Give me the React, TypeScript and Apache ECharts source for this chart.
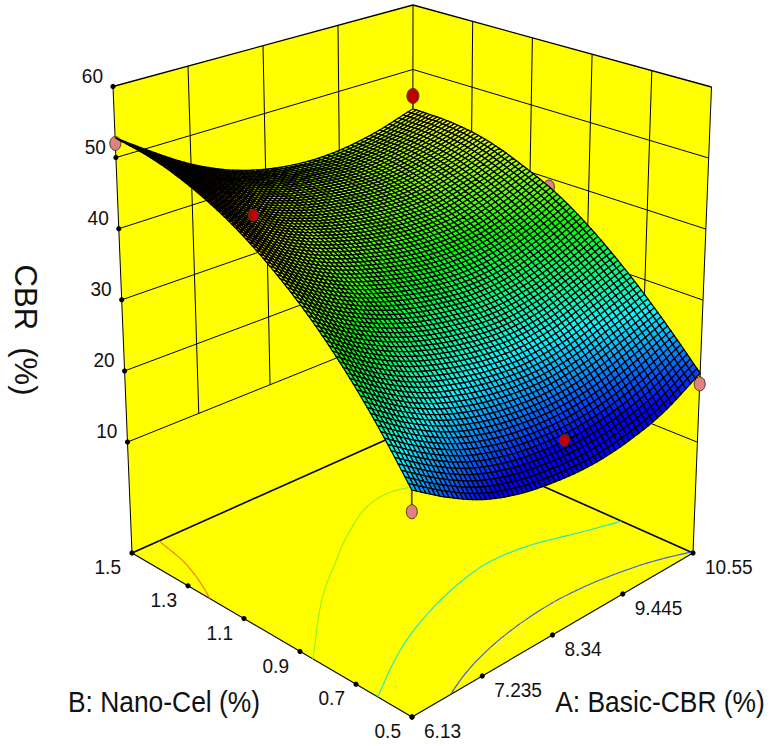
import React, { useEffect, useRef } from "react";
import * as echarts from "echarts";

// ---- axis values ----
const aTicks = [6.13, 7.235, 8.34, 9.445, 10.55];
const aTickLabels = ["6.13", "7.235", "8.34", "9.445", "10.55"];
const bTicks = [0.5, 0.7, 0.9, 1.1, 1.3, 1.5];
const bTickLabels = ["0.5", "0.7", "0.9", "1.1", "1.3", "1.5"];
const zTicks = [10, 20, 30, 40, 50, 60];
const zMin = -5.6;
const zMax = 60;
const aMin = 6.13, aMax = 10.55, bMin = 0.5, bMax = 1.5;

// ---- surface values: rows B = 0.5..1.5, columns A = 6.13..10.55 ----
const surfaceA = [6.13, 6.6825, 7.235, 7.7875, 8.34, 8.8925, 9.445, 9.9975, 10.55];
const surfaceB = [0.5, 0.625, 0.75, 0.875, 1.0, 1.125, 1.25, 1.375, 1.5];
const cbrRow0 = [23.6, 20.3, 17.6, 15.9, 15.0, 14.7, 15.3, 16.8, 19.7];
const cbrRow1 = [30.1, 26.7, 24.0, 22.2, 21.2, 20.9, 21.5, 23.0, 24.9];
const cbrRow2 = [35.85, 32.3, 29.6, 27.8, 26.6, 26.1, 26.7, 28.2, 29.8];
const cbrRow3 = [40.75, 37.1, 34.4, 32.4, 31.1, 30.4, 30.8, 32.2, 34.2];
const cbrRow4 = [44.8, 41.1, 38.3, 36.4, 35.0, 34.2, 34.4, 35.7, 37.9];
const cbrRow5 = [48.05, 44.3, 41.5, 39.6, 38.2, 37.4, 37.4, 38.7, 40.6];
const cbrRow6 = [50.45, 46.7, 43.7, 41.7, 40.4, 39.6, 39.6, 40.8, 42.7];
const cbrRow7 = [52.05, 48.4, 45.2, 43.0, 41.6, 40.8, 40.8, 41.9, 43.7];
const cbrRow8 = [52.8, 49.2, 45.9, 43.4, 41.8, 41.0, 41.1, 42.1, 43.9];
const cbrTable = [cbrRow0, cbrRow1, cbrRow2, cbrRow3, cbrRow4, cbrRow5, cbrRow6, cbrRow7, cbrRow8];

// ---- design points ----
const pointA = [6.13, 6.13, 10.55, 10.55, 6.13, 10.55, 8.47];
const pointB = [0.5, 1.5, 1.5, 0.5, 1.035, 1.035, 0.5];
const pointCBR = [20.8, 52.0, 45.9, 18.2, 50.2, 38.7, 20.0];
const pointAboveSurface = [false, false, true, false, true, false, true];

// ---- contour levels on the floor ----
const contourLevels = [20, 30, 40, 50];
const contourColors = ["#2a55f0", "#10e8c8", "#8cf020", "#ff6a10"];

// ---- colour scale of the surface (blue to red) ----
const colourLow = 17.5;
const colourHigh = 53;

// ---- box corners on the page ----
type P = [number, number];
const floorF: P = [412, 717], floorR: P = [693, 553], floorL: P = [132, 553], floorB: P = [412.5, 428];
const topF: P = [411.5, 207], topR: P = [711.5, 87], topL: P = [113, 86.5], topB: P = [413, 5];

const MESH_U = 62;
const MESH_V = 85;
const FONT = '"Liberation Sans", Arial, sans-serif';
const YELLOW = "#ffff00";

const lerp = (a: number, b: number, t: number) => a + (b - a) * t;
const bil = (f: P, r: P, l: P, b: P, u: number, v: number): P => [
  lerp(lerp(f[0], r[0], u), lerp(l[0], b[0], u), v),
  lerp(lerp(f[1], r[1], u), lerp(l[1], b[1], u), v),
];
// A, B, CBR -> page position in the hidden axes' units
function project(a: number, b: number, z: number): P {
  const u = (a - aMin) / (aMax - aMin);
  const v = (b - bMin) / (bMax - bMin);
  const w = (z - zMin) / (zMax - zMin);
  const p0 = bil(floorF, floorR, floorL, floorB, u, v);
  const p1 = bil(topF, topR, topL, topB, u, v);
  return [lerp(p0[0], p1[0], w), lerp(p0[1], p1[1], w)];
}

// smooth drawing of the read table (Catmull-Rom), only so that the mesh is not faceted
function cr(p0: number, p1: number, p2: number, p3: number, t: number) {
  return 0.5 * (2 * p1 + (p2 - p0) * t + (2 * p0 - 5 * p1 + 4 * p2 - p3) * t * t + (3 * p1 - p0 - 3 * p2 + p3) * t * t * t);
}
function sampleRow(row: number[], x: number) {
  const n = row.length - 1;
  const i = Math.min(n - 1, Math.floor(x));
  const t = x - i;
  const p1 = row[i], p2 = row[i + 1];
  const p0 = i > 0 ? row[i - 1] : 2 * p1 - p2;
  const p3 = i + 2 <= n ? row[i + 2] : 2 * p2 - p1;
  return cr(p0, p1, p2, p3, t);
}
function surfaceAt(fu: number, fv: number) {
  const col = cbrTable.map((r) => sampleRow(r, fu * (surfaceA.length - 1)));
  return sampleRow(col, fv * (surfaceB.length - 1));
}
const meshZ: number[][] = [];
for (let j = 0; j <= MESH_V; j++) {
  const r: number[] = [];
  for (let i = 0; i <= MESH_U; i++) r.push(surfaceAt(i / MESH_U, j / MESH_V));
  meshZ.push(r);
}
const meshA = (i: number) => lerp(aMin, aMax, i / MESH_U);
const meshB = (j: number) => lerp(bMin, bMax, j / MESH_V);

function rainbow(z: number) {
  const t = Math.max(0, Math.min(1, (z - colourLow) / (colourHigh - colourLow))) * 4;
  const s = Math.floor(Math.min(t, 3.999));
  const f = t - s;
  let c = [0, 0, 0];
  if (s === 0) c = [0, 255 * f, 255];
  if (s === 1) c = [0, 255, 255 * (1 - f)];
  if (s === 2) c = [255 * f, 255, 0];
  if (s === 3) c = [255, 255 * (1 - f), 0];
  return `rgb(${Math.round(c[0])},${Math.round(c[1])},${Math.round(c[2])})`;
}

// contour segments by marching squares over the mesh
function contourSegments(level: number) {
  const segs: [P, P][] = [];
  const cross = (i0: number, j0: number, i1: number, j1: number): P | null => {
    const z0 = meshZ[j0][i0], z1 = meshZ[j1][i1];
    if ((z0 < level) === (z1 < level)) return null;
    const t = (level - z0) / (z1 - z0);
    return [lerp(i0, i1, t), lerp(j0, j1, t)];
  };
  for (let j = 0; j < MESH_V; j++) {
    for (let i = 0; i < MESH_U; i++) {
      const pts = [
        cross(i, j, i + 1, j),
        cross(i + 1, j, i + 1, j + 1),
        cross(i + 1, j + 1, i, j + 1),
        cross(i, j + 1, i, j),
      ].filter(Boolean) as P[];
      if (pts.length >= 2) segs.push([pts[0], pts[1]]);
      if (pts.length === 4) segs.push([pts[2], pts[3]]);
    }
  }
  return segs;
}

const meshCells: [number, number][] = [];
for (let j = MESH_V - 1; j >= 0; j--) for (let i = MESH_U - 1; i >= 0; i--) meshCells.push([i, j]);

function App() {
  const ref = useRef<HTMLDivElement>(null);
  useEffect(() => {
    const chart = echarts.init(ref.current!, null, { renderer: "svg" });

    const line = (api: any, a: P, b: P, stroke: string, lineWidth: number) => {
      const p = api.coord(a), q = api.coord(b);
      return { type: "line", shape: { x1: p[0], y1: p[1], x2: q[0], y2: q[1] }, style: { stroke, lineWidth }, silent: true };
    };
    const poly = (api: any, pts: P[], style: any) => ({
      type: "polygon",
      shape: { points: pts.map((p) => api.coord(p)) },
      style,
      silent: true,
    });
    const label = (api: any, at: P, text: string, align: string, size: number, rotation = 0, scaleX = 1) => {
      const p = api.coord(at);
      return {
        type: "text",
        x: p[0],
        y: p[1],
        rotation,
        scaleX,
        silent: true,
        style: { text, fill: "#111", font: `${size}px ${FONT}`, align, verticalAlign: "middle", textAlign: align, textVerticalAlign: "middle" },
      };
    };
    const dot = (api: any, at: P) => {
      const p = api.coord(at);
      return { type: "circle", shape: { cx: p[0], cy: p[1], r: 2.6 }, style: { fill: "#000" }, silent: true };
    };

    const renderBox = (_: any, api: any) => {
      const c: any[] = [];
      const L = (a: number, b: number, z: number) => project(a, b, z);
      c.push(poly(api, [L(aMin, bMax, zMin), L(aMin, bMax, zMax), L(aMax, bMax, zMax), L(aMax, bMax, zMin)], { fill: YELLOW }));
      c.push(poly(api, [L(aMax, bMin, zMin), L(aMax, bMin, zMax), L(aMax, bMax, zMax), L(aMax, bMax, zMin)], { fill: YELLOW }));
      c.push(poly(api, [L(aMin, bMin, zMin), L(aMax, bMin, zMin), L(aMax, bMax, zMin), L(aMin, bMax, zMin)], { fill: YELLOW }));
      // wall grid
      for (const z of zTicks) {
        c.push(line(api, L(aMin, bMax, z), L(aMax, bMax, z), "#000", z === 60 ? 1.3 : 1));
        c.push(line(api, L(aMax, bMin, z), L(aMax, bMax, z), "#000", z === 60 ? 1.3 : 1));
      }
      for (const a of aTicks.slice(1, -1)) c.push(line(api, L(a, bMax, 10), L(a, bMax, 60), "#000", 1));
      for (const b of bTicks.slice(1, -1)) c.push(line(api, L(aMax, b, 10), L(aMax, b, 60), "#000", 1));
      c.push(line(api, L(aMax, bMax, zMin), L(aMax, bMax, zMax), "#000", 1));
      c.push(line(api, L(aMin, bMax, zMin), L(aMin, bMax, zMax), "#000", 1));
      c.push(line(api, L(aMax, bMin, zMin), L(aMax, bMin, zMax), "#000", 1));
      // floor edges
      c.push(line(api, L(aMin, bMax, zMin), L(aMax, bMax, zMin), "#000", 1.6));
      c.push(line(api, L(aMax, bMin, zMin), L(aMax, bMax, zMin), "#000", 1.6));
      c.push(line(api, L(aMin, bMin, zMin), L(aMin, bMax, zMin), "#000", 1.1));
      c.push(line(api, L(aMin, bMin, zMin), L(aMax, bMin, zMin), "#000", 1.1));
      // ticks and labels
      zTicks.forEach((z) => {
        const p = L(aMin, bMax, z);
        c.push(dot(api, p));
        c.push(label(api, [p[0] - 10, p[1] - 11], String(z), "right", 20.5, 0, 0.93));
      });
      aTicks.forEach((a, i) => {
        const p = L(a, bMin, zMin);
        c.push(dot(api, p));
        c.push(label(api, [p[0] + 12, p[1] + 14], aTickLabels[i], "left", 20.5, 0, 0.93));
      });
      bTicks.forEach((b, i) => {
        const p = L(aMin, b, zMin);
        c.push(dot(api, p));
        c.push(label(api, [p[0] - 11, p[1] + 14], bTickLabels[i], "right", 20.5, 0, 0.93));
      });
      c.push(label(api, [25, 330], "CBR  (%)", "center", 31, -Math.PI / 2));
      c.push(label(api, [164, 701], "B: Nano-Cel (%)", "center", 30, 0, 0.88));
      c.push(label(api, [660, 701], "A: Basic-CBR (%)", "center", 30, 0, 0.88));
      return { type: "group", children: c };
    };

    const renderContours = (_: any, api: any) => {
      const c: any[] = [];
      contourLevels.forEach((lv, k) => {
        for (const [p, q] of contourSegments(lv)) {
          c.push(
            line(api, project(meshA(p[0]), meshB(p[1]), zMin), project(meshA(q[0]), meshB(q[1]), zMin), contourColors[k], 1.1),
          );
        }
      });
      return { type: "group", children: c };
    };

    const renderCell = (_: any, api: any) => {
      const i = api.value(0), j = api.value(1);
      const zs = [meshZ[j][i], meshZ[j][i + 1], meshZ[j + 1][i + 1], meshZ[j + 1][i]];
      return poly(
        api,
        [
          project(meshA(i), meshB(j), zs[0]),
          project(meshA(i + 1), meshB(j), zs[1]),
          project(meshA(i + 1), meshB(j + 1), zs[2]),
          project(meshA(i), meshB(j + 1), zs[3]),
        ],
        { fill: rainbow((zs[0] + zs[1] + zs[2] + zs[3]) / 4), stroke: "#000", lineWidth: 1.25 },
      );
    };

    const renderPoint = (_: any, api: any) => {
      const a = api.value(0), b = api.value(1), z = api.value(2), above = api.value(3) === 1;
      const p = api.coord(project(a, b, z));
      const fu = (a - aMin) / (aMax - aMin), fv = (b - bMin) / (bMax - bMin);
      const s = api.coord(project(a, b, surfaceAt(fu, fv)));
      const big = a === aMax && b === bMax;
      return {
        type: "group",
        children: [
          { type: "line", shape: { x1: p[0], y1: p[1], x2: s[0], y2: s[1] }, style: { stroke: above && !big ? "#101040" : "#5a5a10", lineWidth: above && !big ? 0.8 : 1.8 }, silent: true },
          {
            type: "ellipse",
            shape: { cx: p[0], cy: p[1], rx: above ? (big ? 6 : 5) : 5.5, ry: above ? (big ? 7.5 : 6) : 7 },
            style: { fill: above ? "#c00000" : "#e08080", stroke: "#4a3a20", lineWidth: 1 },
            silent: true,
          },
        ],
      };
    };

    const points = pointA.map((a, i) => [a, pointB[i], pointCBR[i], pointAboveSurface[i] ? 1 : 0]);
    const custom = (renderItem: any, data: any[], name: string) => ({
      type: "custom",
      name,
      renderItem,
      data,
      silent: true,
      clip: false,
      progressive: 0,
      animation: false,
      coordinateSystem: "cartesian2d",
      encode: { x: 0, y: 1 },
    });

    chart.setOption({
      animation: false,
      backgroundColor: "#ffffff",
      grid: { left: 0, right: 0, top: 0, bottom: 0 },
      xAxis: { type: "value", min: 0, max: 771, show: false },
      yAxis: { type: "value", min: 0, max: 746, inverse: true, show: false },
      series: [
        custom(renderBox, [[0, 0]], "box"),
        custom(renderContours, [[0, 0]], "contours"),
        custom(renderPoint, points.filter((p) => p[3] === 0), "points below"),
        custom(renderCell, meshCells, "surface"),
        custom(renderPoint, points.filter((p) => p[3] === 1), "points above"),
      ],
    });
    return () => chart.dispose();
  }, []);
  return <div ref={ref} style={{ position: "absolute", left: 0, top: 0, width: 771, height: 746 }} />;
}

export default App;
